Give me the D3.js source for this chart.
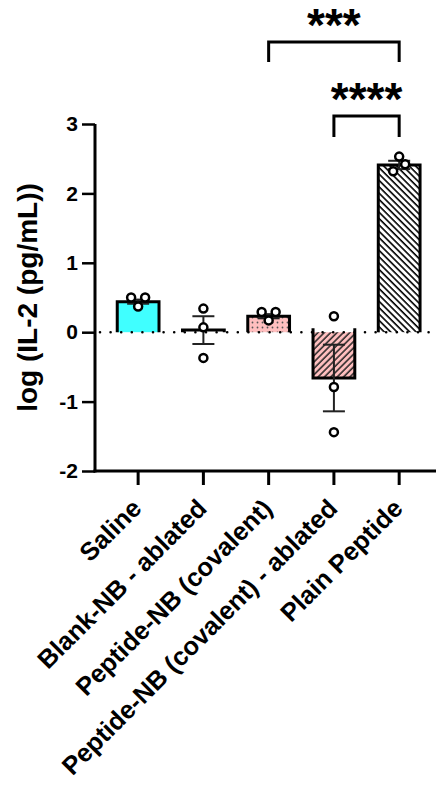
<!DOCTYPE html>
<html>
<head>
<meta charset="utf-8">
<script src="https://cdn.jsdelivr.net/npm/d3@7"></script>
<style>
  body { margin: 0; background: #fff; }
  svg { display: block; }
  text { font-family: Arial, "Liberation Sans", sans-serif; font-weight: bold; fill: #000; }
</style>
</head>
<body>
<div id="chart"></div>
<script>
// group names, means, SEM, individual points
var categories = ["Saline", "Blank-NB - ablated", "Peptide-NB (covalent)", "Peptide-NB (covalent) - ablated", "Plain Peptide"];
var means = [0.44, 0.03, 0.23, -0.66, 2.41];
var sems = [0.03, 0.20, 0.03, 0.48, 0.06];
var points = [
    [0.50, 0.50, 0.37],
    [0.34, 0.07, -0.37],
    [0.29, 0.29, 0.17],
    [0.23, -0.79, -1.44],
    [2.53, 2.42, 2.32]
];
var jitter = [
    [-7, 7, 0],
    [0, 0, 0],
    [-7, 7, 0],
    [0, 0, 0],
    [0, 6, -6]
];
var yTicks = [-2, -1, 0, 1, 2, 3];
var comparisons = [
    {from: 2, to: 4, label: "***"},
    {from: 3, to: 4, label: "****"}
];

var width = 438, height = 788;

var svg = d3.select("#chart")
    .append("svg")
    .attr("width", width)
    .attr("height", height);

var y = d3.scaleLinear().domain([-2, 3]).range([471, 124]);
var x = d3.scaleBand().domain(categories).range([105.5, 431.8]).paddingInner(0.36).paddingOuter(0.18);

function cx(i) { return x(categories[i]) + x.bandwidth() / 2; }

// patterns
var defs = svg.append("defs");

var dots = defs.append("pattern")
    .attr("id", "dots")
    .attr("patternUnits", "userSpaceOnUse")
    .attr("width", 5).attr("height", 5);
dots.append("rect").attr("width", 5).attr("height", 5).attr("fill", "#ffbfbf");
dots.append("circle").attr("cx", 2.5).attr("cy", 2.5).attr("r", 0.9).attr("fill", "#555");

var hatchUp = defs.append("pattern")
    .attr("id", "hatchUp")
    .attr("patternUnits", "userSpaceOnUse")
    .attr("width", 4.5).attr("height", 10)
    .attr("patternTransform", "rotate(45)");
hatchUp.append("rect").attr("width", 4.5).attr("height", 10).attr("fill", "#ffbfbf");
hatchUp.append("line").attr("x1", 1).attr("x2", 1).attr("y1", 0).attr("y2", 10)
    .attr("stroke", "#222").attr("stroke-width", 1.5);

var hatchDown = defs.append("pattern")
    .attr("id", "hatchDown")
    .attr("patternUnits", "userSpaceOnUse")
    .attr("width", 4.5).attr("height", 10)
    .attr("patternTransform", "rotate(-45)");
hatchDown.append("rect").attr("width", 4.5).attr("height", 10).attr("fill", "#fff");
hatchDown.append("line").attr("x1", 1).attr("x2", 1).attr("y1", 0).attr("y2", 10)
    .attr("stroke", "#000").attr("stroke-width", 1.6);

var fills = ["#40ffff", "#fff", "url(#dots)", "url(#hatchUp)", "url(#hatchDown)"];

// bars (fill, then open outline without the baseline side)
var bars = svg.append("g");
bars.selectAll("rect")
    .data(means)
    .enter()
    .append("rect")
    .attr("x", function(d, i) { return x(categories[i]); })
    .attr("width", x.bandwidth())
    .attr("y", function(d) { return Math.min(y(d), y(0)); })
    .attr("height", function(d) { return Math.abs(y(d) - y(0)); })
    .attr("fill", function(d, i) { return fills[i]; });

bars.selectAll("path")
    .data(means)
    .enter()
    .append("path")
    .attr("d", function(d, i) {
        var x0 = x(categories[i]), x1 = x0 + x.bandwidth();
        var b = y(0) + (d < 0 ? -4 : 0);
        return "M" + x0 + "," + b + "V" + y(d) + "H" + x1 + "V" + b;
    })
    .attr("fill", "none")
    .attr("stroke", "#000")
    .attr("stroke-width", 3);

// dotted zero line
svg.append("line")
    .attr("x1", 100).attr("x2", 436)
    .attr("y1", y(0)).attr("y2", y(0))
    .attr("stroke", "#000")
    .attr("stroke-width", 2.6)
    .attr("stroke-linecap", "round")
    .attr("stroke-dasharray", "0,10.6");

// error bars
var err = svg.append("g").attr("stroke", "#222").attr("stroke-width", 2);
means.forEach(function(m, i) {
    var c = cx(i);
    err.append("line").attr("x1", c).attr("x2", c).attr("y1", y(m - sems[i])).attr("y2", y(m + sems[i]));
    [m - sems[i], m + sems[i]].forEach(function(v) {
        err.append("line").attr("x1", c - 11).attr("x2", c + 11).attr("y1", y(v)).attr("y2", y(v));
    });
});

// individual points
var pts = svg.append("g");
points.forEach(function(arr, i) {
    pts.selectAll(null)
        .data(arr)
        .enter()
        .append("circle")
        .attr("cx", function(d, j) { return cx(i) + jitter[i][j]; })
        .attr("cy", function(d) { return y(d); })
        .attr("r", 4)
        .attr("fill", "#fff")
        .attr("stroke", "#000")
        .attr("stroke-width", 2.5);
});

// y axis
var yAxis = svg.append("g")
    .attr("transform", "translate(95,0)")
    .call(d3.axisLeft(y).tickValues(yTicks).tickFormat(d3.format("d")).tickSize(13).tickPadding(4));
yAxis.select(".domain").attr("stroke-width", 3).attr("d", "M0," + (y(-2) + 1.5) + "V" + y(3));
yAxis.selectAll(".tick line").attr("stroke-width", 2.5);
yAxis.selectAll(".tick text").attr("font-size", 21).attr("font-weight", "bold")
    .attr("font-family", "Arial, 'Liberation Sans', sans-serif")
    .text(function(d) { return d < 0 ? "-" + Math.abs(d) : d; });

// x axis
var xAxis = svg.append("g")
    .attr("transform", "translate(0," + y(-2) + ")")
    .call(d3.axisBottom(x).tickSize(14).tickPadding(0));
xAxis.select(".domain").attr("stroke-width", 3).attr("d", "M93.5,0H436");
xAxis.selectAll(".tick line").attr("stroke-width", 3);
xAxis.selectAll(".tick text")
    .attr("font-size", 25.5)
    .attr("font-weight", "bold")
    .attr("font-family", "Arial, 'Liberation Sans', sans-serif")
    .attr("text-anchor", "end")
    .attr("x", 0)
    .attr("y", 0)
    .attr("dy", 0)
    .attr("transform", "translate(5,39) rotate(-45)");

// y axis title
svg.append("text")
    .attr("transform", "translate(37," + y(0.5) + ") rotate(-90)")
    .attr("text-anchor", "middle")
    .attr("font-size", 28)
    .text("log (IL-2 (pg/mL))");

// significance brackets
var brackets = [{top: 42, leg: 20, textY: 41}, {top: 116, leg: 21, textY: 115}];
comparisons.forEach(function(c, k) {
    var x0 = cx(c.from), x1 = cx(c.to), b = brackets[k];
    svg.append("path")
        .attr("d", "M" + x0 + "," + (b.top + b.leg) + "V" + b.top + "H" + x1 + "V" + (b.top + b.leg))
        .attr("fill", "none")
        .attr("stroke", "#000")
        .attr("stroke-width", 3);
    svg.append("text")
        .attr("x", (x0 + x1) / 2)
        .attr("y", b.textY)
        .attr("text-anchor", "middle")
        .attr("font-size", 46)
        .text(c.label);
});
</script>
</body>
</html>
